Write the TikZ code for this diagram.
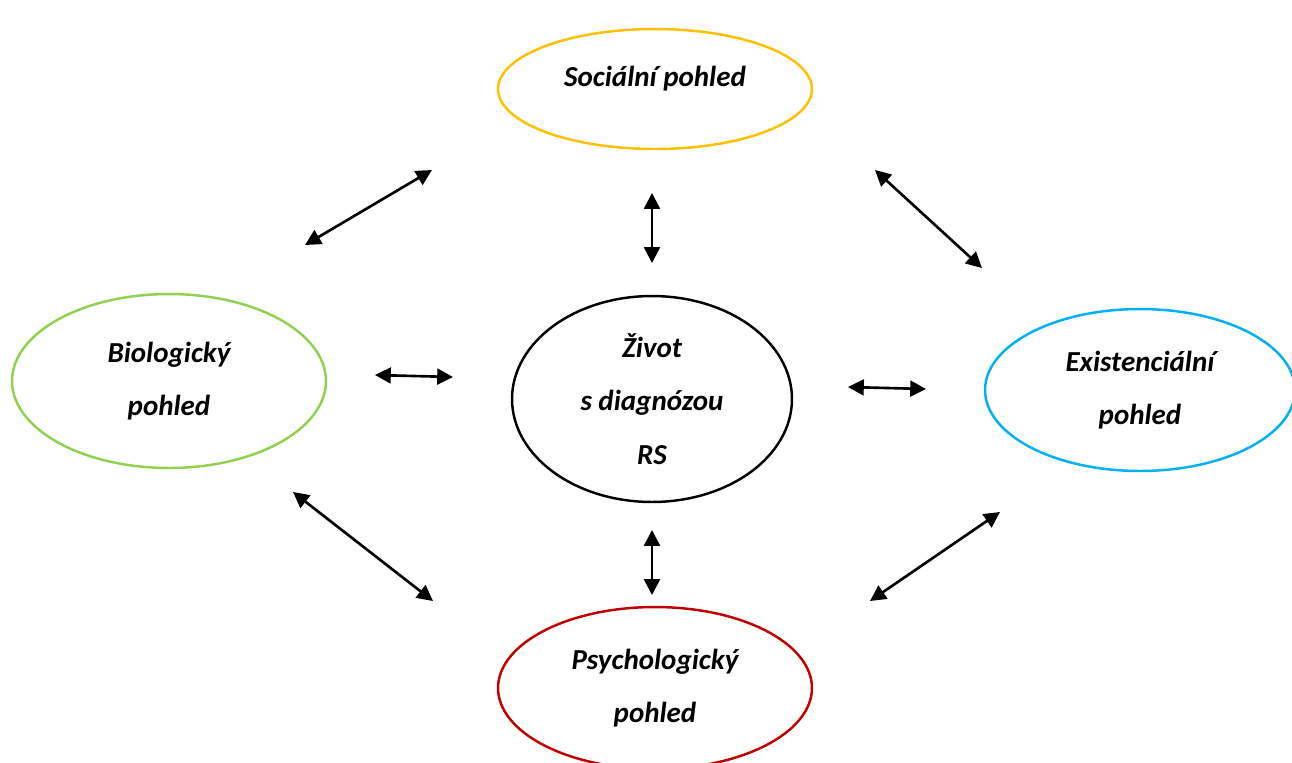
\documentclass[tikz,border=0pt]{standalone}
\usepackage{fontspec}
\setmainfont{Carlito}
\usepackage{xcolor}
\usepackage{tikz}
\usetikzlibrary{shapes.geometric, arrows.meta, positioning, calc}

\definecolor{socgold}{HTML}{FFC000}
\definecolor{biogreen}{HTML}{92D050}
\definecolor{exblue}{HTML}{00B0F0}
\definecolor{psyred}{HTML}{C00000}

\begin{document}
\begin{tikzpicture}[
  x=0.02cm, y=-0.02cm,
  view/.style={ellipse, draw, line width=1.4pt, inner sep=0pt, align=center, font=\fontsize{16.5}{30}\selectfont\bfseries\itshape},
  link/.style={{Triangle[length=9pt, width=9pt]}-{Triangle[length=9pt, width=9pt]}, line width=1.5pt},
]
\useasboundingbox (0,0) rectangle (1292,762);
\node[view, draw=socgold, minimum width=6.28cm, minimum height=2.4cm] (soc) at (655,89) {\raisebox{14pt}{Sociální pohled}};
\node[view, draw=biogreen, minimum width=6.28cm, minimum height=3.48cm] (bio) at (169,381) {Biologický\\pohled};
\node[view, draw=black, minimum width=5.6cm, minimum height=4.12cm, font=\fontsize{16.5}{30.5}\selectfont\bfseries\itshape] (life) at (652,399) {Život\\s diagnózou\\RS};
\node[view, draw=exblue, minimum width=6.2cm, minimum height=3.24cm] (ex) at (1140,390) {Existenciální\\pohled};
\node[view, draw=psyred, minimum width=6.28cm, minimum height=3.24cm] (psy) at (655,688) {Psychologický\\pohled};
% free arrow ends
\coordinate (a1) at (305,245); \coordinate (a2) at (432,170);
\coordinate (b1) at (652,193); \coordinate (b2) at (652,263);
\coordinate (c1) at (875,170); \coordinate (c2) at (982,268);
\coordinate (d1) at (375,375); \coordinate (d2) at (453,377);
\coordinate (e1) at (848,387); \coordinate (e2) at (926,389);
\coordinate (f1) at (293,492); \coordinate (f2) at (433,601);
\coordinate (g1) at (652,530); \coordinate (g2) at (652,595);
\coordinate (h1) at (870,601); \coordinate (h2) at (1000,512);
\foreach \s in {a,b,c,d,e,f,g,h}
  \draw[link] (\s1) -- (\s2);
\end{tikzpicture}
\end{document}
